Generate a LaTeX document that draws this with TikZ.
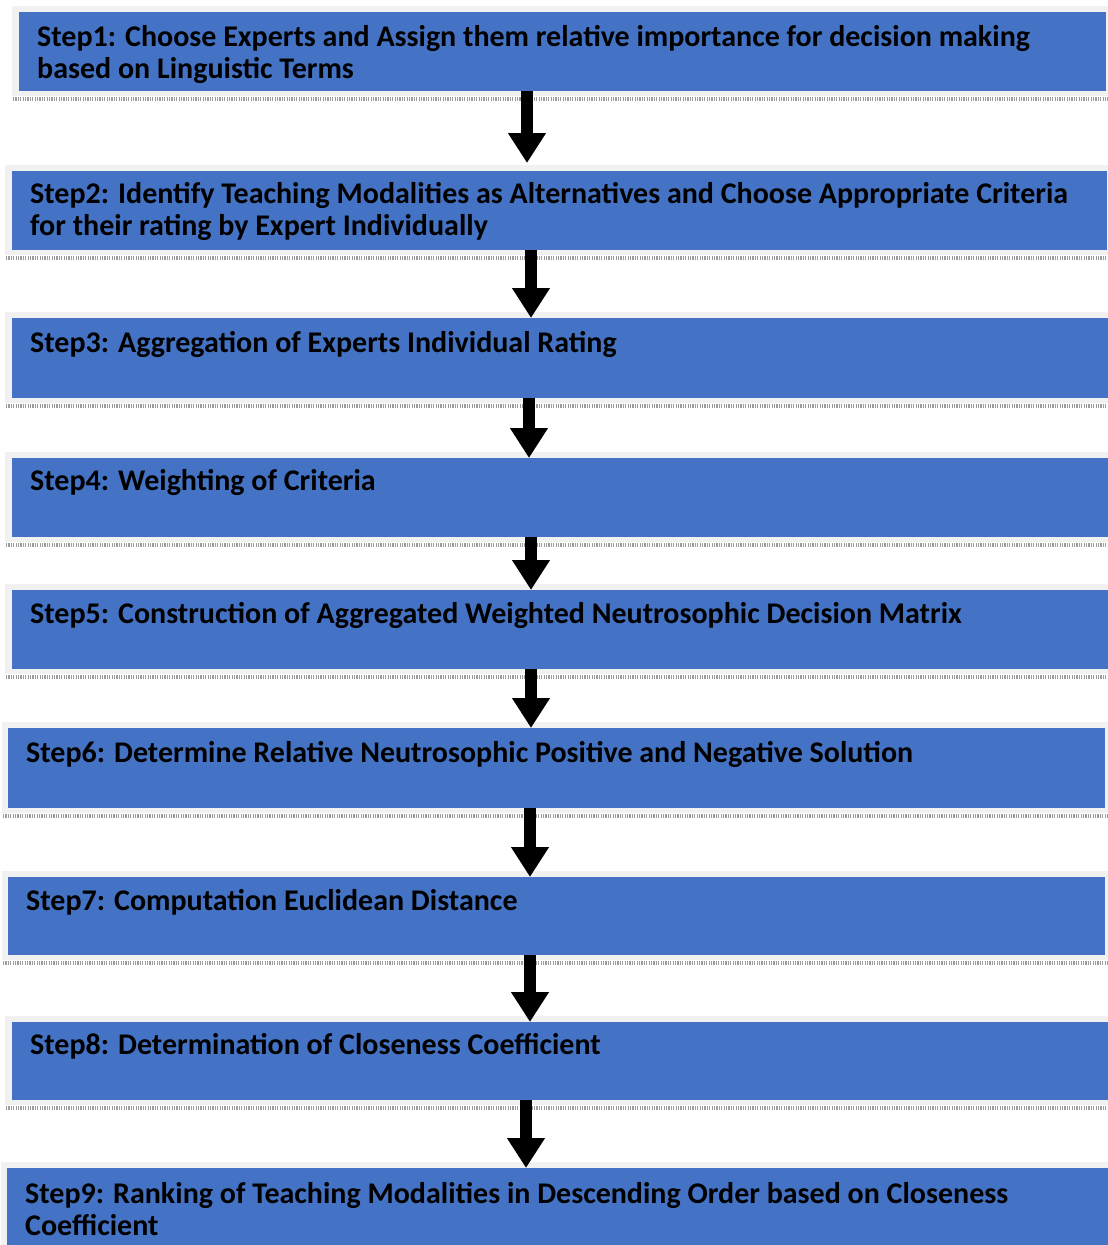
\documentclass[tikz,border=0pt]{standalone}
\usepackage{fontspec}
\setmainfont{Carlito}
\usetikzlibrary{arrows.meta,calc}
\definecolor{boxblue}{HTML}{4472C4}
\definecolor{framegray}{HTML}{F1F1F1}
\definecolor{dotgray}{HTML}{9C9C9C}
\newcommand{\flowstep}[9]{%
  % #1 name, #2 left, #3 top, #4 right, #5 bottom, #6 dot left, #7 text, #8 frame left, #9 last baseline offset
  \fill[framegray] (#8,#3-6) rectangle (1108,#5+5);
  \node[stepbox, minimum width=#4-#2, minimum height=#5-#3] (#1) at (#2,#3) {};
  \draw[dotline] (#6,#5+8) -- (1108,#5+8);
  \node[steptext] (t#1) at ($(#1.north west)+(18,#9)$) {#7};
}
\begin{document}
\begin{tikzpicture}[x=1pt,y=-1pt,
  stepbox/.style={fill=boxblue, draw=none, inner sep=0pt, outer sep=0pt, anchor=north west},
  steptext/.style={anchor=base west, inner sep=0pt, align=left,
    font=\bfseries\fontsize{30}{32}\selectfont, text=black},
  dotline/.style={draw=dotgray, line width=4pt, dash pattern=on 1.2pt off 1.2pt},
  flowarrow/.style={draw=black, line width=12pt, -{Triangle[width=36pt,length=30pt]}}]
\clip (0,0) rectangle (1108,1245);
\fill[white] (0,0) rectangle (1108,1245);

\flowstep{s1}{19}{12}{1106}{91}{13}{Step1: Choose Experts and Assign them relative importance for decision making\\based on Linguistic Terms}{12}{66}
\flowstep{s2}{12}{171}{1107}{250}{6}{Step2: Identify Teaching Modalities as Alternatives and Choose Appropriate Criteria\\for their rating by Expert Individually}{5}{64}
\flowstep{s3}{12}{318}{1108}{398}{6}{Step3: Aggregation of Experts Individual Rating}{5}{34}
\flowstep{s4}{12}{458}{1108}{537}{6}{Step4: Weighting of Criteria}{5}{32}
\flowstep{s5}{12}{590}{1108}{669}{6}{Step5: Construction of Aggregated Weighted Neutrosophic Decision Matrix}{5}{33}
\flowstep{s6}{8}{728}{1105}{808}{3}{Step6: Determine Relative Neutrosophic Positive and Negative Solution}{2}{34}
\flowstep{s7}{8}{877}{1105}{955}{3}{Step7: Computation Euclidean Distance}{2}{33}
\flowstep{s8}{12}{1022}{1108}{1100}{6}{Step8: Determination of Closeness Coefficient}{5}{32}
\flowstep{s9}{7}{1168}{1108}{1250}{2}{Step9: Ranking of Teaching Modalities in Descending Order based on Closeness\\Coefficient}{1}{67}

\coordinate (a1) at (527,0);
\coordinate (a2) at (531,0);
\coordinate (a3) at (529,0);
\coordinate (a4) at (531,0);
\coordinate (a5) at (531,0);
\coordinate (a6) at (530,0);
\coordinate (a7) at (530,0);
\coordinate (a8) at (526,0);

\draw[flowarrow] (s1.south -| a1) -- ([yshift=8pt]s2.north -| a1);
\draw[flowarrow] (s2.south -| a2) -- (s3.north -| a2);
\draw[flowarrow] (s3.south -| a3) -- (s4.north -| a3);
\draw[flowarrow] (s4.south -| a4) -- (s5.north -| a4);
\draw[flowarrow] (s5.south -| a5) -- (s6.north -| a5);
\draw[flowarrow] (s6.south -| a6) -- (s7.north -| a6);
\draw[flowarrow] (s7.south -| a7) -- (s8.north -| a7);
\draw[flowarrow] (s8.south -| a8) -- (s9.north -| a8);
\end{tikzpicture}
\end{document}
